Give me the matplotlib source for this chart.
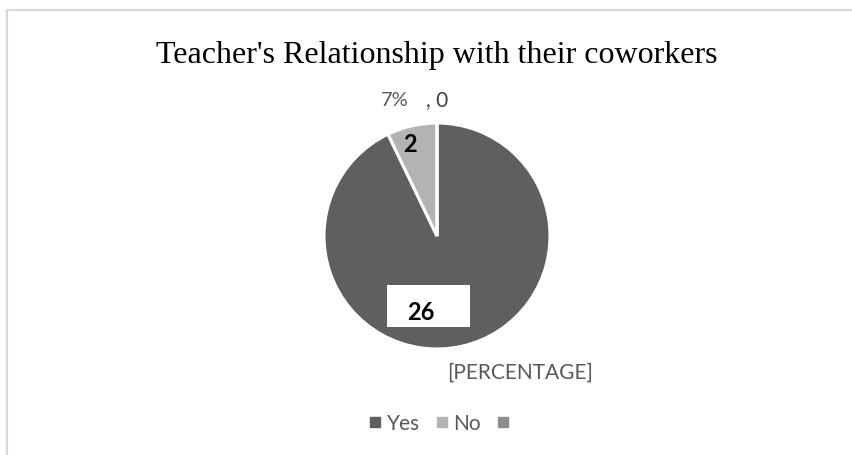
import matplotlib
matplotlib.use("Agg")
import matplotlib.pyplot as plt
from matplotlib.lines import Line2D
from matplotlib.patches import Rectangle

# Data
categories = ["Yes", "No", ""]
values = [26, 2, 0]
colors = ["#5f5f5f", "#b3b3b3", "#8c8c8c"]
title = "Teacher's Relationship with their coworkers"

W, H = 853, 456
fig = plt.figure(figsize=(W / 100, H / 100), dpi=100)
fig.patch.set_facecolor("white")

def fx(x):
    return x / W

def fy(y):
    return 1 - y / H

# Chart-area border (top and left visible)
fig.add_artist(Line2D([fx(7.5), fx(7.5)], [fy(10.5), 0], color="#d9d9d9", lw=1.6,
                      transform=fig.transFigure))
fig.add_artist(Line2D([fx(7.5), 1], [fy(10.5), fy(10.5)], color="#d9d9d9", lw=1.6,
                      transform=fig.transFigure))

# Pie axes: center (437, 237), radius 113 px
cx, cy, r = 437, 237, 113
ax = fig.add_axes([fx(cx - r), fy(cy + r), 2 * r / W, 2 * r / H])
wedges, _ = ax.pie(values, colors=colors, startangle=90, counterclock=False,
                   radius=1.0, wedgeprops=dict(edgecolor="white", linewidth=2.2))
ax.set_xlim(-1, 1)
ax.set_ylim(-1, 1)
ax.axis("off")

# Title
fig.text(fx(437), fy(55), title, ha="center", va="center",
         fontsize=23, family="Liberation Serif", color="black")

lab_font = ["Lato", "DejaVu Sans"]
# Data label box for Yes
fig.add_artist(Rectangle((fx(387), fy(328)), (470 - 387) / W, 42 / H,
                         transform=fig.transFigure, facecolor="white",
                         edgecolor="none", zorder=3))
fig.text(fx(421), fy(312), str(values[0]), ha="center", va="center", fontsize=17,
         fontweight="bold", family=lab_font, color="black", zorder=4)
fig.text(fx(410), fy(144), str(values[1]), ha="center", va="center", fontsize=17,
         fontweight="bold", family=lab_font, color="black")
fig.text(fx(395), fy(101), "7%", ha="center", va="center", fontsize=14.5,
         family=lab_font, color="#595959")
fig.text(fx(437), fy(100), ", " + str(values[2]), ha="center", va="center", fontsize=15,
         family=lab_font, color="#404040")
fig.text(fx(520), fy(373), "[PERCENTAGE]", ha="center", va="center", fontsize=15,
         family=lab_font, color="#595959")

# Legend
handles = [Line2D([], [], marker="s", linestyle="none", markersize=7,
                  markerfacecolor=c, markeredgecolor=c) for c in colors]
leg = fig.legend(handles, categories, loc="center", bbox_to_anchor=(fx(442), fy(424)),
                 ncol=3, frameon=False, handletextpad=0.3, columnspacing=0.8,
                 handlelength=0.5, prop={"family": lab_font, "size": 15})
for t in leg.get_texts():
    t.set_color("#595959")

fig.savefig("out.png", dpi=100, facecolor="white")
